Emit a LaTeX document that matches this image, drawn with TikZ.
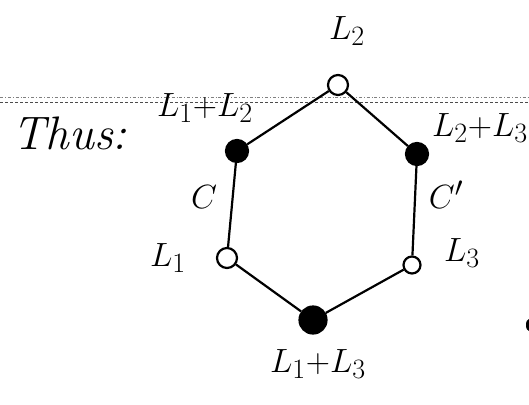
\documentclass[tikz,border=0pt]{standalone}
\begin{document}
\begin{tikzpicture}[x=1pt, y=-1pt, line width=2.2pt]
    \tikzset{
        hueco/.style={circle, draw, fill=white, inner sep=0pt, minimum size=20pt},
        lleno/.style={circle, draw, fill=black, inner sep=0pt, minimum size=22pt},
        etiq/.style={font=\Huge, scale=1.35, inner sep=0pt},
    }
    \useasboundingbox (0,0) rectangle (529,404);

    % renglones de la hoja
    \draw[gray, line width=0.8pt, dash dot] (0,97) -- (529,97);
    \draw[black!70, line width=0.8pt, densely dashed] (0,102) -- (529,102);

    % vertices del hexagono
    \node[hueco] (l2)   at (338,85)  {};
    \node[lleno] (l12)  at (237,151) {};
    \node[lleno] (l23)  at (417,154) {};
    \node[hueco] (l1)   at (227,258) {};
    \node[hueco, minimum size=17pt] (l3) at (412,265) {};
    \node[lleno, minimum size=27pt] (l13) at (313,320) {};

    % aristas
    \draw (l2) -- (l12) -- (l1) -- (l13) -- (l3) -- (l23) -- (l2);

    % etiquetas
    \node[etiq, font=\Huge\itshape, scale=1.4] (thus) at (70,133) {Thus:};
    \node[etiq] (tl2)  at (347,31)  {$L_2$};
    \node[etiq] (tl12) at (205,108) {$L_1{+}L_2$};
    \node[etiq] (tl23) at (480,128) {$L_2{+}L_3$};
    \node[etiq] (tc)   at (204,197) {$C$};
    \node[etiq] (tcp)  at (446,195) {$C'$};
    \node[etiq] (tl1)  at (168,258) {$L_1$};
    \node[etiq] (tl3)  at (462,253) {$L_3$};
    \node[etiq] (tl13) at (318,364) {$L_1{+}L_3$};

    % marca al borde
    \fill (529,325) ellipse (3 and 6);
\end{tikzpicture}
\end{document}
